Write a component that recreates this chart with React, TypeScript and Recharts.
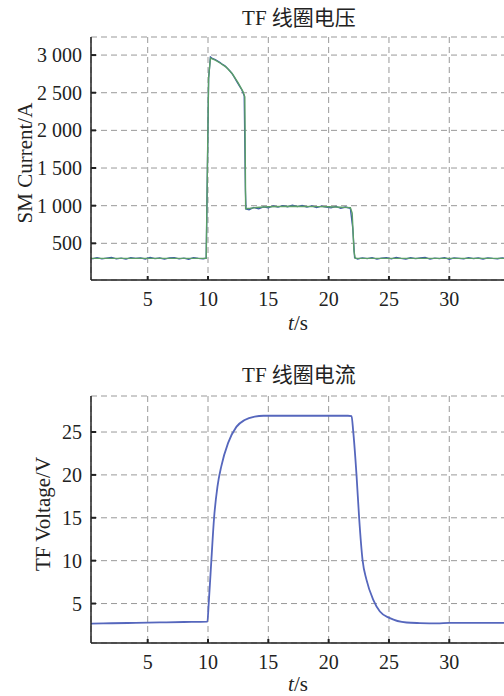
import React from "react";
import {
  LineChart,
  Line,
  XAxis,
  YAxis,
  CartesianGrid,
} from "recharts";

// --- data (t in s) ---
const timeTicks = [5, 10, 15, 20, 25, 30];
const currentTicks = [500, 1000, 1500, 2000, 2500, 3000];
const voltageTicks = [5, 10, 15, 20, 25];

// top panel, noisy measured trace
const measTime = [
  0.4, 0.8, 1.2, 1.6, 2.0, 2.4, 2.8, 3.2, 3.6, 4.0, 4.4, 4.8, 5.2, 5.6, 6.0, 6.4, 6.8, 7.2, 7.6, 8.0, 8.4, 8.8, 9.2, 9.6,
  9.85, 9.95, 10.05, 10.2, 10.4, 10.6, 10.8, 11.0, 11.2, 11.4, 11.6, 11.8, 12.0, 12.2, 12.4, 12.6, 12.8, 13.0, 13.1, 13.15,
  13.4, 13.8, 14.2, 14.6, 15.0, 15.4, 15.8, 16.2, 16.6, 17.0, 17.4, 17.8, 18.2, 18.6, 19.0, 19.4, 19.8, 20.2, 20.6, 21.0, 21.4, 21.8,
  22.0, 22.15,
  22.4, 22.8, 23.2, 23.6, 24.0, 24.4, 24.8, 25.2, 25.6, 26.0, 26.4, 26.8, 27.2, 27.6, 28.0, 28.4, 28.8, 29.2, 29.6, 30.0,
  30.4, 30.8, 31.2, 31.6, 32.0, 32.4, 32.8, 33.2, 33.6, 34.0, 34.4, 34.8, 35.2,
];
const measCurrent = [
  292, 309, 294, 304, 312, 293, 303, 290, 310, 300, 306, 292, 313, 297, 305, 291, 307, 311, 294, 303, 289, 309, 301, 295,
  302, 1480, 2690, 2975, 2952, 2940, 2922, 2900, 2876, 2858, 2826, 2792, 2752, 2700, 2645, 2590, 2540, 2460, 1200, 955,
  944, 976, 958, 985, 972, 996, 981, 1000, 986, 1006, 988, 1002, 982, 998, 976, 995, 980, 972, 990, 966, 982, 965,
  700, 310,
  292, 306, 297, 311, 290, 303, 309, 294, 313, 300, 292, 308, 296, 305, 312, 291, 303, 297, 310, 289,
  306, 300, 294, 309, 297, 305, 292, 308, 300, 295, 306, 297, 302,
];

// top panel, smooth trace
const fitTime = [0.3, 9.85, 9.95, 10.05, 10.2, 10.6, 11.0, 11.5, 12.0, 12.5, 12.9, 13.05, 13.12, 13.5, 14, 15, 16, 17, 18, 19, 20, 21, 21.8, 21.95, 22.1, 22.2, 35.2];
const fitCurrent = [300, 300, 1500, 2700, 2960, 2932, 2895, 2840, 2755, 2630, 2515, 2445, 960, 965, 975, 985, 990, 992, 990, 988, 985, 980, 975, 900, 400, 300, 300];

// bottom panel
const voltTime = [
  0.3, 2, 4, 6, 8, 9.95, 10.06, 10.28, 10.5, 10.78, 11.1, 11.66, 12.35, 13.04, 13.87, 14.6, 16, 18, 20, 21.6, 21.9,
  22.03, 22.31, 22.53, 22.81, 23.14, 23.7, 24.25, 25.08, 26.46, 27.57, 29, 30, 32, 35.2,
];
const voltValue = [
  2.65, 2.7, 2.75, 2.8, 2.85, 2.9, 5.05, 10.1, 14.95, 18.6, 21.0, 23.7, 25.6, 26.4, 26.8, 26.9, 26.9, 26.9, 26.9, 26.9, 26.85,
  25.2, 20.0, 14.95, 10.1, 7.76, 5.43, 4.07, 3.3, 2.79, 2.72, 2.68, 2.75, 2.75, 2.75,
];

const measData = measTime.map((t, i) => ({ t, v: measCurrent[i] }));
const fitData = fitTime.map((t, i) => ({ t, v: fitCurrent[i] }));
const voltData = voltTime.map((t, i) => ({ t, v: voltValue[i] }));

const FONT = '"Liberation Serif", "Times New Roman", "Noto Sans CJK SC", serif';
const tickStyle = { fill: "#222", fontSize: 20, fontFamily: FONT };
const axisLine = { stroke: "#222", strokeWidth: 1.5 };
const tickLine = { stroke: "#222", strokeWidth: 2 };

const fmtThousands = (v: number) => String(v).replace(/\B(?=(\d{3})+(?!\d))/g, " ");

const YTitle = ({ text, x, y }: { text: string; x: number; y: number }) => (
  <text x={x} y={y} transform={`rotate(-90 ${x} ${y})`} textAnchor="middle" fill="#222" fontSize={21} fontFamily={FONT}>
    {text}
  </text>
);

const XTitle = ({ y }: { y: number }) => (
  <text x={298} y={y} textAnchor="middle" fill="#222" fontSize={21} fontFamily={FONT}>
    <tspan fontStyle="italic">t</tspan>/s
  </text>
);

const Title = ({ text, top }: { text: string; top: number }) => (
  <div
    style={{
      position: "absolute",
      left: 199,
      top,
      width: 200,
      textAlign: "center",
      fontSize: 21,
      lineHeight: "24px",
      fontFamily: FONT,
      color: "#222",
    }}
  >
    {text}
  </div>
);

export default function App() {
  return (
    <div style={{ position: "absolute", left: 0, top: 0, width: 504, height: 696, overflow: "hidden", background: "#fff" }}>
      <Title text="TF 线圈电压" top={6} />
      <div style={{ position: "absolute", left: 0, top: 0 }}>
        <LineChart width={512} height={340} margin={{ top: 37, right: 0, left: 31, bottom: 0 }}>
          <CartesianGrid stroke="#999" strokeDasharray="6 4" />
          <XAxis
            type="number"
            dataKey="t"
            domain={[0.3, 35.2]}
            ticks={timeTicks}
            allowDataOverflow
            height={60}
            axisLine={axisLine}
            tickLine={tickLine}
            tickSize={-4}
            tickMargin={16}
            tick={tickStyle}
            label={{ content: () => <XTitle y={330} /> }}
          />
          <XAxis xAxisId="top" orientation="top" type="number" domain={[0.3, 35.2]} height={0} tick={false} tickLine={false} axisLine={axisLine} />
          <YAxis
            type="number"
            domain={[13, 3240]}
            ticks={currentTicks}
            allowDataOverflow
            width={60}
            axisLine={axisLine}
            tickLine={tickLine}
            tickSize={-5}
            tickMargin={14}
            tick={tickStyle}
            tickFormatter={fmtThousands}
            label={{ content: () => <YTitle text="SM Current/A" x={32} y={163} /> }}
          />
          <Line data={measData} dataKey="v" type="linear" stroke="#3a55a8" strokeWidth={1.3} dot={false} isAnimationActive={false} />
          <Line data={fitData} dataKey="v" type="linear" stroke="#5a9e68" strokeWidth={1.4} dot={false} isAnimationActive={false} />
        </LineChart>
      </div>

      <Title text="TF 线圈电流" top={363} />
      <div style={{ position: "absolute", left: 0, top: 340 }}>
        <LineChart width={512} height={356} margin={{ top: 56, right: 0, left: 31, bottom: 0 }}>
          <CartesianGrid stroke="#999" strokeDasharray="6 4" />
          <XAxis
            type="number"
            dataKey="t"
            domain={[0.3, 35.2]}
            ticks={timeTicks}
            allowDataOverflow
            height={53}
            axisLine={axisLine}
            tickLine={tickLine}
            tickSize={-4}
            tickMargin={16}
            tick={tickStyle}
            label={{ content: () => <XTitle y={351} /> }}
          />
          <XAxis xAxisId="top" orientation="top" type="number" domain={[0.3, 35.2]} height={0} tick={false} tickLine={false} axisLine={axisLine} />
          <YAxis
            type="number"
            domain={[0.4, 29.2]}
            ticks={voltageTicks}
            allowDataOverflow
            width={60}
            axisLine={axisLine}
            tickLine={tickLine}
            tickSize={-5}
            tickMargin={14}
            tick={tickStyle}
            label={{ content: () => <YTitle text="TF Voltage/V" x={50} y={174} /> }}
          />
          <Line data={voltData} dataKey="v" type="monotone" stroke="#5667bd" strokeWidth={1.8} dot={false} isAnimationActive={false} />
        </LineChart>
      </div>
    </div>
  );
}
